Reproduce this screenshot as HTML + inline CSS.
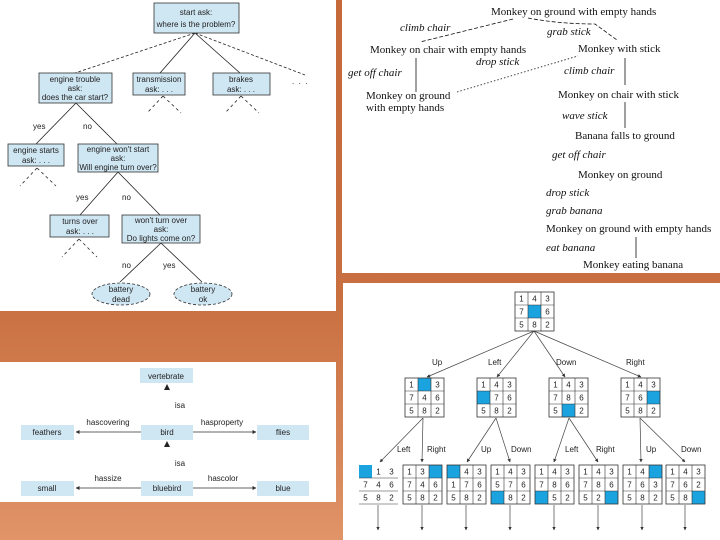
<!DOCTYPE html>
<html><head><style>
html,body{margin:0;padding:0;width:720px;height:540px;overflow:hidden}
body{background:linear-gradient(180deg,#c5683a 0%,#c96f40 55%,#e09468 100%)}
svg{position:absolute;left:0;top:0}
.s{font-family:"Liberation Sans",sans-serif;font-size:8px;fill:#222}
.r{font-family:"Liberation Serif",serif;font-size:11px;fill:#111}
.i{font-family:"Liberation Serif",serif;font-size:11px;font-style:italic;fill:#111}
.g{font-family:"Liberation Sans",sans-serif;font-size:8px;fill:#222;text-anchor:middle}
.box{fill:#cfe6f3;stroke:#333;stroke-width:.8}
.nb{fill:#cfe6f3}
</style></head><body>
<svg width="720" height="540" viewBox="0 0 720 540">
<defs>
<marker id="a" viewBox="0 0 10 10" refX="9" refY="5" markerWidth="5" markerHeight="5" orient="auto"><path d="M0,0L10,5L0,10z" fill="#333"/></marker>
</defs>
<rect x="0" y="0" width="336" height="311" fill="#fff"/>
<rect x="342" y="0" width="378" height="273" fill="#fff"/>
<rect x="343" y="283" width="377" height="257" fill="#fff"/>
<rect x="0" y="362" width="336" height="140" fill="#fff"/>

<!-- top-left decision tree -->
<g stroke="#222" stroke-width=".8" fill="none">
<line x1="195" y1="33" x2="75" y2="73" stroke-dasharray="3,2"/>
<line x1="195" y1="33" x2="160" y2="73"/>
<line x1="195" y1="33" x2="240" y2="73"/>
<line x1="195" y1="33" x2="305" y2="75" stroke-dasharray="3,2"/>
<line x1="76" y1="103" x2="36" y2="144"/>
<line x1="76" y1="103" x2="117" y2="144"/>
<line x1="118" y1="172" x2="80" y2="215"/>
<line x1="118" y1="172" x2="160" y2="215"/>
<line x1="161" y1="243" x2="120" y2="282"/>
<line x1="161" y1="243" x2="202" y2="282"/>
<g stroke-dasharray="3,3">
<line x1="163" y1="96" x2="147" y2="113"/><line x1="163" y1="96" x2="181" y2="113"/>
<line x1="241" y1="96" x2="225" y2="113"/><line x1="241" y1="96" x2="259" y2="113"/>
<line x1="37" y1="168" x2="20" y2="186"/><line x1="37" y1="168" x2="56" y2="186"/>
<line x1="79" y1="239" x2="62" y2="257"/><line x1="79" y1="239" x2="97" y2="257"/>
</g>
</g>
<rect class="box" x="154" y="3" width="85" height="30"/>
<text class="g" x="196" y="15">start ask:</text><text class="g" x="196" y="27">where is the problem?</text>
<rect class="box" x="39" y="73" width="73" height="30"/>
<text class="g" x="75" y="82">engine trouble</text><text class="g" x="75" y="91">ask:</text><text class="g" x="75" y="100">does the car start?</text>
<rect class="box" x="133" y="73" width="52" height="22"/>
<text class="g" x="159" y="82">transmission</text><text class="g" x="159" y="92">ask: . . .</text>
<rect class="box" x="213" y="73" width="57" height="22"/>
<text class="g" x="241" y="82">brakes</text><text class="g" x="241" y="92">ask: . . .</text>
<text class="s" x="292" y="84">.&#160;&#160;.&#160;&#160;.</text>
<rect class="box" x="8" y="144" width="56" height="22"/>
<text class="g" x="36" y="153">engine starts</text><text class="g" x="36" y="163">ask: . . .</text>
<rect class="box" x="78" y="144" width="80" height="28"/>
<text class="g" x="118" y="152">engine won't start</text><text class="g" x="118" y="161">ask:</text><text class="g" x="118" y="170">Will engine turn over?</text>
<rect class="box" x="50" y="215" width="59" height="22"/>
<text class="g" x="80" y="224">turns over</text><text class="g" x="80" y="234">ask: . . .</text>
<rect class="box" x="122" y="215" width="78" height="28"/>
<text class="g" x="161" y="223">won't turn over</text><text class="g" x="161" y="232">ask:</text><text class="g" x="161" y="241">Do lights come on?</text>
<ellipse class="box" cx="121" cy="294" rx="29" ry="11" stroke-dasharray="3,2"/>
<text class="g" x="121" y="292">battery</text><text class="g" x="121" y="302">dead</text>
<ellipse class="box" cx="203" cy="294" rx="29" ry="11" stroke-dasharray="3,2"/>
<text class="g" x="203" y="292">battery</text><text class="g" x="203" y="302">ok</text>
<text class="s" x="33" y="129">yes</text><text class="s" x="83" y="129">no</text>
<text class="s" x="76" y="200">yes</text><text class="s" x="122" y="200">no</text>
<text class="s" x="122" y="268">no</text><text class="s" x="163" y="268">yes</text>

<!-- monkey -->
<g stroke="#111" stroke-width=".8" fill="none">
<path d="M513,19 L420,42" stroke-dasharray="4,2"/>
<path d="M528,18 Q560,24 595,24 L617,40" stroke-dasharray="4,2"/>
<path d="M457,92 L578,56" stroke-dasharray="1.5,2"/>
<line x1="416" y1="58" x2="416" y2="92"/>
<line x1="625" y1="58" x2="625" y2="85"/>
<line x1="625" y1="102" x2="625" y2="128"/>
<line x1="636" y1="237" x2="636" y2="258"/>
</g>
<text class="r" x="491" y="15">Monkey on ground with empty hands</text>
<text class="i" x="400" y="31">climb chair</text>
<text class="i" x="547" y="35">grab stick</text>
<text class="r" x="370" y="53">Monkey on chair with empty hands</text>
<text class="r" x="578" y="52">Monkey with stick</text>
<text class="i" x="476" y="65">drop stick</text>
<text class="i" x="348" y="76">get off chair</text>
<text class="i" x="564" y="74">climb chair</text>
<text class="r" x="366" y="99">Monkey on ground</text>
<text class="r" x="366" y="111">with empty hands</text>
<text class="r" x="558" y="98">Monkey on chair with stick</text>
<text class="i" x="562" y="119">wave stick</text>
<text class="r" x="575" y="139">Banana falls to ground</text>
<text class="i" x="552" y="158">get off chair</text>
<text class="r" x="578" y="178">Monkey on ground</text>
<text class="i" x="546" y="196">drop stick</text>
<text class="i" x="546" y="214">grab banana</text>
<text class="r" x="546" y="232">Monkey on ground with empty hands</text>
<text class="i" x="546" y="251">eat banana</text>
<text class="r" x="583" y="268">Monkey eating banana</text>

<!-- semantic net -->
<g fill="none" stroke="#333" stroke-width=".8">
<line x1="141" y1="432" x2="76" y2="432" marker-end="url(#a)"/>
<line x1="193" y1="432" x2="256" y2="432" marker-end="url(#a)"/>
<line x1="141" y1="488" x2="76" y2="488" marker-end="url(#a)"/>
<line x1="193" y1="488" x2="256" y2="488" marker-end="url(#a)"/>
</g>
<path d="M167,384L164,390L170,390z" fill="#222"/>
<path d="M167,441L164,447L170,447z" fill="#222"/>
<g>
<rect class="nb" x="140" y="368" width="53" height="15"/>
<rect class="nb" x="21" y="425" width="53" height="15"/><rect class="nb" x="141" y="425" width="52" height="15"/><rect class="nb" x="257" y="425" width="52" height="15"/>
<rect class="nb" x="21" y="481" width="53" height="15"/><rect class="nb" x="141" y="481" width="52" height="15"/><rect class="nb" x="257" y="481" width="52" height="15"/>
</g>
<text class="g" x="166" y="379">vertebrate</text>
<text class="g" x="180" y="408">isa</text>
<text class="g" x="47" y="435">feathers</text><text class="g" x="167" y="435">bird</text><text class="g" x="283" y="435">flies</text>
<text class="g" x="108" y="425">hascovering</text><text class="g" x="222" y="425">hasproperty</text>
<text class="g" x="180" y="466">isa</text>
<text class="g" x="47" y="491">small</text><text class="g" x="167" y="491">bluebird</text><text class="g" x="283" y="491">blue</text>
<text class="g" x="108" y="481">hassize</text><text class="g" x="223" y="481">hascolor</text>

<!-- 8-puzzle edges -->
<g stroke="#444" stroke-width=".7" fill="none">
<line x1="534" y1="331" x2="427" y2="377" marker-end="url(#a)"/>
<line x1="534" y1="331" x2="497" y2="377" marker-end="url(#a)"/>
<line x1="534" y1="331" x2="565" y2="377" marker-end="url(#a)"/>
<line x1="534" y1="331" x2="641" y2="377" marker-end="url(#a)"/>
<line x1="423" y1="418" x2="380" y2="462" marker-end="url(#a)"/>
<line x1="423" y1="418" x2="422" y2="462" marker-end="url(#a)"/>
<line x1="496" y1="418" x2="467" y2="462" marker-end="url(#a)"/>
<line x1="496" y1="418" x2="510" y2="462" marker-end="url(#a)"/>
<line x1="569" y1="418" x2="554" y2="462" marker-end="url(#a)"/>
<line x1="569" y1="418" x2="598" y2="462" marker-end="url(#a)"/>
<line x1="640" y1="418" x2="641" y2="462" marker-end="url(#a)"/>
<line x1="640" y1="418" x2="685" y2="462" marker-end="url(#a)"/>
<line x1="378" y1="505" x2="378" y2="530" marker-end="url(#a)"/>
<line x1="422" y1="505" x2="422" y2="530" marker-end="url(#a)"/>
<line x1="466" y1="505" x2="466" y2="530" marker-end="url(#a)"/>
<line x1="510" y1="505" x2="510" y2="530" marker-end="url(#a)"/>
<line x1="554" y1="505" x2="554" y2="530" marker-end="url(#a)"/>
<line x1="598" y1="505" x2="598" y2="530" marker-end="url(#a)"/>
<line x1="642" y1="505" x2="642" y2="530" marker-end="url(#a)"/>
<line x1="685" y1="505" x2="685" y2="530" marker-end="url(#a)"/>
</g>
<text class="s" x="432" y="365">Up</text><text class="s" x="488" y="365">Left</text><text class="s" x="556" y="365">Down</text><text class="s" x="626" y="365">Right</text>
<text class="s" x="397" y="452">Left</text><text class="s" x="427" y="452">Right</text><text class="s" x="481" y="452">Up</text><text class="s" x="511" y="452">Down</text>
<text class="s" x="565" y="452">Left</text><text class="s" x="596" y="452">Right</text><text class="s" x="646" y="452">Up</text><text class="s" x="681" y="452">Down</text>

<!-- grid template usage -->
<g transform="translate(515,292)">
<rect x="13" y="13" width="13" height="13" fill="#1aa3de"/>
<rect width="39" height="39" fill="none" stroke="#333" stroke-width=".8"/><path d="M13,0V39M26,0V39M0,13H39M0,26H39" stroke="#333" stroke-width=".6"/>
<text class="g" x="6.5" y="9.5">1</text><text class="g" x="19.5" y="9.5">4</text><text class="g" x="32.5" y="9.5">3</text>
<text class="g" x="6.5" y="22.5">7</text><text class="g" x="32.5" y="22.5">6</text>
<text class="g" x="6.5" y="35.5">5</text><text class="g" x="19.5" y="35.5">8</text><text class="g" x="32.5" y="35.5">2</text>
</g>
<g transform="translate(405,378)">
<rect x="13" y="0" width="13" height="13" fill="#1aa3de"/>
<rect width="39" height="39" fill="none" stroke="#333" stroke-width=".8"/><path d="M13,0V39M26,0V39M0,13H39M0,26H39" stroke="#333" stroke-width=".6"/>
<text class="g" x="6.5" y="9.5">1</text><text class="g" x="32.5" y="9.5">3</text>
<text class="g" x="6.5" y="22.5">7</text><text class="g" x="19.5" y="22.5">4</text><text class="g" x="32.5" y="22.5">6</text>
<text class="g" x="6.5" y="35.5">5</text><text class="g" x="19.5" y="35.5">8</text><text class="g" x="32.5" y="35.5">2</text>
</g>
<g transform="translate(477,378)">
<rect x="0" y="13" width="13" height="13" fill="#1aa3de"/>
<rect width="39" height="39" fill="none" stroke="#333" stroke-width=".8"/><path d="M13,0V39M26,0V39M0,13H39M0,26H39" stroke="#333" stroke-width=".6"/>
<text class="g" x="6.5" y="9.5">1</text><text class="g" x="19.5" y="9.5">4</text><text class="g" x="32.5" y="9.5">3</text>
<text class="g" x="19.5" y="22.5">7</text><text class="g" x="32.5" y="22.5">6</text>
<text class="g" x="6.5" y="35.5">5</text><text class="g" x="19.5" y="35.5">8</text><text class="g" x="32.5" y="35.5">2</text>
</g>
<g transform="translate(549,378)">
<rect x="13" y="26" width="13" height="13" fill="#1aa3de"/>
<rect width="39" height="39" fill="none" stroke="#333" stroke-width=".8"/><path d="M13,0V39M26,0V39M0,13H39M0,26H39" stroke="#333" stroke-width=".6"/>
<text class="g" x="6.5" y="9.5">1</text><text class="g" x="19.5" y="9.5">4</text><text class="g" x="32.5" y="9.5">3</text>
<text class="g" x="6.5" y="22.5">7</text><text class="g" x="19.5" y="22.5">8</text><text class="g" x="32.5" y="22.5">6</text>
<text class="g" x="6.5" y="35.5">5</text><text class="g" x="32.5" y="35.5">2</text>
</g>
<g transform="translate(621,378)">
<rect x="26" y="13" width="13" height="13" fill="#1aa3de"/>
<rect width="39" height="39" fill="none" stroke="#333" stroke-width=".8"/><path d="M13,0V39M26,0V39M0,13H39M0,26H39" stroke="#333" stroke-width=".6"/>
<text class="g" x="6.5" y="9.5">1</text><text class="g" x="19.5" y="9.5">4</text><text class="g" x="32.5" y="9.5">3</text>
<text class="g" x="6.5" y="22.5">7</text><text class="g" x="19.5" y="22.5">6</text>
<text class="g" x="6.5" y="35.5">5</text><text class="g" x="19.5" y="35.5">8</text><text class="g" x="32.5" y="35.5">2</text>
</g>
<!-- level 3 -->
<g transform="translate(359,465)">
<rect x="0" y="0" width="13" height="13" fill="#1aa3de"/>
<path d="M0,13H39M0,26H39M0,39H39" stroke="#333" stroke-width=".6"/>
<text class="g" x="19.5" y="9.5">1</text><text class="g" x="32.5" y="9.5">3</text>
<text class="g" x="6.5" y="22.5">7</text><text class="g" x="19.5" y="22.5">4</text><text class="g" x="32.5" y="22.5">6</text>
<text class="g" x="6.5" y="35.5">5</text><text class="g" x="19.5" y="35.5">8</text><text class="g" x="32.5" y="35.5">2</text>
</g>
<g transform="translate(403,465)">
<rect x="26" y="0" width="13" height="13" fill="#1aa3de"/>
<rect width="39" height="39" fill="none" stroke="#333" stroke-width=".8"/><path d="M13,0V39M26,0V39M0,13H39M0,26H39" stroke="#333" stroke-width=".6"/>
<text class="g" x="6.5" y="9.5">1</text><text class="g" x="19.5" y="9.5">3</text>
<text class="g" x="6.5" y="22.5">7</text><text class="g" x="19.5" y="22.5">4</text><text class="g" x="32.5" y="22.5">6</text>
<text class="g" x="6.5" y="35.5">5</text><text class="g" x="19.5" y="35.5">8</text><text class="g" x="32.5" y="35.5">2</text>
</g>
<g transform="translate(447,465)">
<rect x="0" y="0" width="13" height="13" fill="#1aa3de"/>
<rect width="39" height="39" fill="none" stroke="#333" stroke-width=".8"/><path d="M13,0V39M26,0V39M0,13H39M0,26H39" stroke="#333" stroke-width=".6"/>
<text class="g" x="19.5" y="9.5">4</text><text class="g" x="32.5" y="9.5">3</text>
<text class="g" x="6.5" y="22.5">1</text><text class="g" x="19.5" y="22.5">7</text><text class="g" x="32.5" y="22.5">6</text>
<text class="g" x="6.5" y="35.5">5</text><text class="g" x="19.5" y="35.5">8</text><text class="g" x="32.5" y="35.5">2</text>
</g>
<g transform="translate(491,465)">
<rect x="0" y="26" width="13" height="13" fill="#1aa3de"/>
<rect width="39" height="39" fill="none" stroke="#333" stroke-width=".8"/><path d="M13,0V39M26,0V39M0,13H39M0,26H39" stroke="#333" stroke-width=".6"/>
<text class="g" x="6.5" y="9.5">1</text><text class="g" x="19.5" y="9.5">4</text><text class="g" x="32.5" y="9.5">3</text>
<text class="g" x="6.5" y="22.5">5</text><text class="g" x="19.5" y="22.5">7</text><text class="g" x="32.5" y="22.5">6</text>
<text class="g" x="19.5" y="35.5">8</text><text class="g" x="32.5" y="35.5">2</text>
</g>
<g transform="translate(535,465)">
<rect x="0" y="26" width="13" height="13" fill="#1aa3de"/>
<rect width="39" height="39" fill="none" stroke="#333" stroke-width=".8"/><path d="M13,0V39M26,0V39M0,13H39M0,26H39" stroke="#333" stroke-width=".6"/>
<text class="g" x="6.5" y="9.5">1</text><text class="g" x="19.5" y="9.5">4</text><text class="g" x="32.5" y="9.5">3</text>
<text class="g" x="6.5" y="22.5">7</text><text class="g" x="19.5" y="22.5">8</text><text class="g" x="32.5" y="22.5">6</text>
<text class="g" x="19.5" y="35.5">5</text><text class="g" x="32.5" y="35.5">2</text>
</g>
<g transform="translate(579,465)">
<rect x="26" y="26" width="13" height="13" fill="#1aa3de"/>
<rect width="39" height="39" fill="none" stroke="#333" stroke-width=".8"/><path d="M13,0V39M26,0V39M0,13H39M0,26H39" stroke="#333" stroke-width=".6"/>
<text class="g" x="6.5" y="9.5">1</text><text class="g" x="19.5" y="9.5">4</text><text class="g" x="32.5" y="9.5">3</text>
<text class="g" x="6.5" y="22.5">7</text><text class="g" x="19.5" y="22.5">8</text><text class="g" x="32.5" y="22.5">6</text>
<text class="g" x="6.5" y="35.5">5</text><text class="g" x="19.5" y="35.5">2</text>
</g>
<g transform="translate(623,465)">
<rect x="26" y="0" width="13" height="13" fill="#1aa3de"/>
<rect width="39" height="39" fill="none" stroke="#333" stroke-width=".8"/><path d="M13,0V39M26,0V39M0,13H39M0,26H39" stroke="#333" stroke-width=".6"/>
<text class="g" x="6.5" y="9.5">1</text><text class="g" x="19.5" y="9.5">4</text>
<text class="g" x="6.5" y="22.5">7</text><text class="g" x="19.5" y="22.5">6</text><text class="g" x="32.5" y="22.5">3</text>
<text class="g" x="6.5" y="35.5">5</text><text class="g" x="19.5" y="35.5">8</text><text class="g" x="32.5" y="35.5">2</text>
</g>
<g transform="translate(666,465)">
<rect x="26" y="26" width="13" height="13" fill="#1aa3de"/>
<rect width="39" height="39" fill="none" stroke="#333" stroke-width=".8"/><path d="M13,0V39M26,0V39M0,13H39M0,26H39" stroke="#333" stroke-width=".6"/>
<text class="g" x="6.5" y="9.5">1</text><text class="g" x="19.5" y="9.5">4</text><text class="g" x="32.5" y="9.5">3</text>
<text class="g" x="6.5" y="22.5">7</text><text class="g" x="19.5" y="22.5">6</text><text class="g" x="32.5" y="22.5">2</text>
<text class="g" x="6.5" y="35.5">5</text><text class="g" x="19.5" y="35.5">8</text>
</g>
</svg>
</body></html>
